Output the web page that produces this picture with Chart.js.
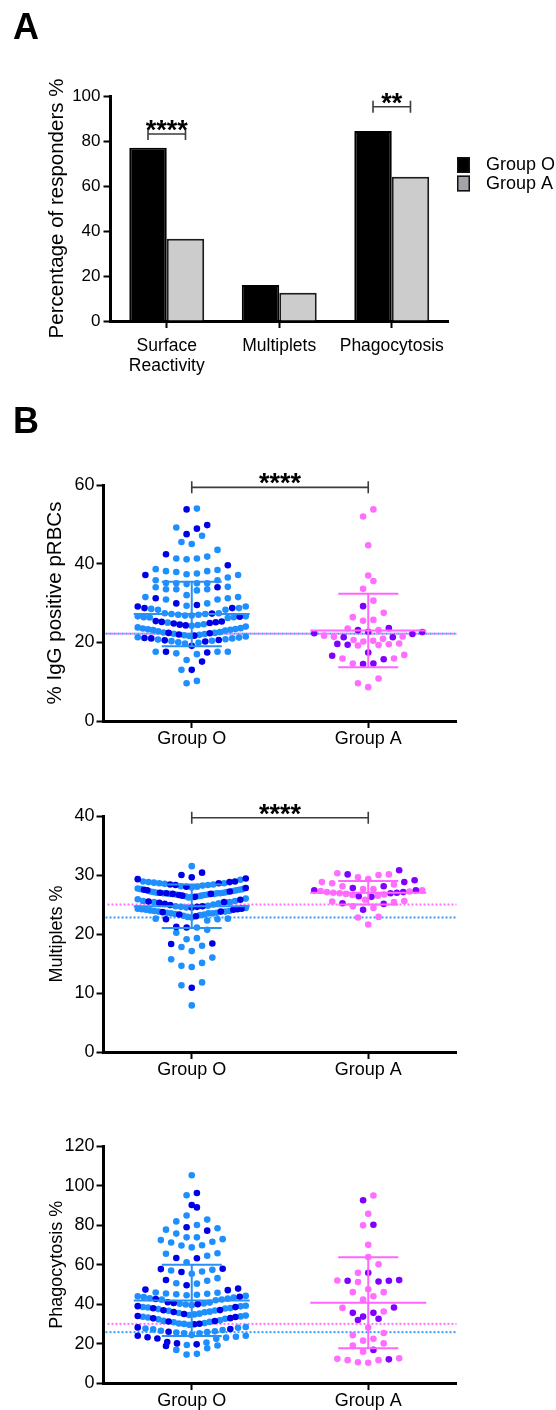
<!DOCTYPE html>
<html lang="en">
<head>
<meta charset="UTF-8">
<title>Group O vs Group A responders</title>
<script src="https://cdn.jsdelivr.net/npm/chart.js@4.4.1/dist/chart.umd.min.js"></script>
<style>
  html, body { margin: 0; padding: 0; background: #fff; }
  body { width: 556px; height: 1410px; position: relative; overflow: hidden; }
  canvas { position: absolute; left: 0; }
  .panel { position: absolute; left: 13px; font: bold 36px "Liberation Sans", Arial, sans-serif; line-height: 36px; color: #000; }
</style>
</head>
<body>
<canvas id="barChart" width="556" height="400" style="top:0"></canvas>
<canvas id="igChart" width="556" height="330" style="top:440px"></canvas>
<canvas id="mpChart" width="556" height="330" style="top:770px"></canvas>
<canvas id="phChart" width="556" height="310" style="top:1100px"></canvas>
<div class="panel" style="top:9px">A</div>
<div class="panel" style="top:403px">B</div>
<script>
// ---- panel A: percentage of responders
const measures = [['Surface', 'Reactivity'], 'Multiplets', 'Phagocytosis'];
const responderO = [77.0, 16.0, 84.4];
const responderA = [36.6, 12.6, 64.1];
const barStars = [{ index: 0, y: 83.1, text: '****' }, { index: 2, y: 95.2, text: '**' }];

// ---- panel B: single donors, group O (blue / dark blue) and group A (pink / purple)
const groups = ['Group O', 'Group A'];

const igOLight = [54.0, 49.2, 47.1, 45.5, 45.0, 43.5, 41.8, 41.3, 41.3, 41.1,
  38.6, 38.4, 38.1, 38.1, 37.9, 37.5, 37.3, 37.1, 36.5,
  35.8, 35.8, 35.1, 35.0, 35.0, 35.0, 34.8, 34.1, 34.0, 33.5, 33.5, 33.5, 33.2, 32.0,
  31.5, 31.5, 31.2, 30.9, 30.9, 29.9, 29.3, 29.1, 28.7, 28.5, 28.3, 28.3,
  27.4, 27.2, 27.0, 26.8, 26.6, 26.4, 26.3, 26.2, 26.4, 26.6, 26.8, 27.0, 27.2, 27.4,
  25.0, 24.6, 24.2, 23.8, 23.5, 23.6, 24.0, 24.4, 23.4, 23.2, 23.0, 22.8, 23.1, 23.3,
  22.6, 22.4, 22.1, 21.8, 21.5, 21.2, 21.0, 21.3, 21.6, 21.9, 22.2, 22.5,
  20.8, 20.4, 20.0, 19.7, 19.9, 20.3, 20.7,
  17.6, 17.6, 17.6, 17.2, 17.0, 15.5, 13.0, 10.2, 9.6];
const igODark = [53.8, 49.8, 48.9, 47.5, 42.4, 39.6, 37.1, 34.0, 31.2,
  29.9, 29.5, 29.1, 28.7, 28.7, 27.3, 26.5,
  25.4, 25.3, 25.2, 25.1, 24.9, 24.8, 24.5, 24.3,
  22.4, 22.3, 22.0, 21.7, 21.1, 21.0, 20.6, 20.5, 20.2,
  19.1, 17.6, 17.4, 15.1, 13.0];
const igAPink = [53.8, 52.0, 44.7, 37.0, 35.6, 33.6, 30.6, 27.5, 26.4, 25.7, 25.5, 23.5, 23.1,
  21.7, 21.5, 21.4, 20.9, 20.6, 20.4, 20.2, 19.7, 19.5, 19.3, 19.2, 16.8, 15.9, 15.9, 14.6, 10.8, 9.6, 8.6];
const igAPurple = [29.2, 23.6, 23.1, 22.7, 22.6, 22.3, 22.1, 21.3, 21.3, 19.6, 19.4, 17.4, 16.6, 15.7, 14.6, 14.5];
const igMean = [27.2, 23.0];
const igSd = [8.2, 9.35];
const igCutoff = [22.2, 22.2];

const mpOLight = [31.5,
  29.2, 28.9, 28.8, 28.7, 28.6, 28.6, 28.5, 28.4, 28.3,
  28.2, 28.1, 28.0, 27.9, 27.7, 27.6, 27.4, 27.3, 27.1, 27.0, 26.9, 26.8, 26.7,
  27.6, 27.5, 27.2, 27.1, 26.9, 26.8, 26.5, 26.4, 26.2,
  27.0, 26.9, 26.7, 26.6, 26.4, 26.2, 26.0, 25.9, 25.6, 25.6, 25.4,
  25.4, 25.2, 25.0, 24.8, 24.6, 24.4, 24.2, 24.0, 23.8, 23.6, 23.5,
  24.7, 24.5, 24.3, 24.1, 23.9, 23.6, 23.5, 23.3,
  23.9, 23.8, 23.5, 23.4, 23.2, 23.1, 22.9,
  22.8, 22.6, 22.6, 22.5, 22.3,
  21.1, 20.7, 20.2, 19.3, 19.1, 18.0, 17.8, 17.1, 16.0, 15.7, 15.1, 14.6, 14.4, 11.8, 11.3, 7.9];
const mpODark = [30.4, 30.0, 29.6, 29.4, 29.3, 28.9, 28.8, 28.6, 28.4, 28.3,
  28.0, 27.8, 27.5, 27.4, 27.2, 27.0, 26.8, 26.6,
  26.9, 26.8, 26.5, 26.3, 25.8, 25.5,
  25.4, 25.3, 25.1, 24.9, 24.7, 24.6, 24.5, 24.3, 24.2, 24.1, 23.8,
  23.7, 23.3, 23.0, 22.5, 21.2, 21.1, 18.4, 18.3, 10.9];
const mpAPink = [30.3, 30.1, 30.0, 29.6, 29.3, 28.8, 28.6, 28.4, 28.1, 27.6, 27.6, 27.4, 27.3, 27.2, 27.1,
  27.0, 26.9, 26.8, 26.7, 26.6, 26.5, 25.8, 25.6, 25.5, 25.4, 24.7, 24.4, 22.9, 22.8, 21.6];
const mpAPurple = [30.8, 30.1, 29.1, 28.8, 28.1, 27.8, 27.4, 27.4, 27.1, 27.0, 26.9, 26.4, 26.3, 25.2, 25.1, 24.1];
const mpMean = [24.7, 27.0];
const mpSd = [3.7, 2.0];
const mpCutoff = [22.8, 25.0];

const phOLight = [105.4, 95.3, 85.0, 82.9, 82.0, 80.2, 78.5, 77.8, 75.8,
  73.9, 73.9, 73.0, 72.5, 71.7, 71.3, 69.9, 69.8, 68.8,
  65.8, 65.6, 64.6, 61.3, 57.4, 57.1, 56.6, 55.4, 53.2, 51.9, 50.6, 50.4,
  45.9, 45.8, 45.4, 45.3, 45.0, 44.8, 44.5, 44.2, 44.0, 43.6, 43.4, 43.0, 42.8, 42.4, 42.3, 42.0,
  40.8, 40.4, 40.2, 39.8, 39.5, 39.2, 38.9, 38.6, 38.3, 38.0, 37.8, 37.5,
  36.8, 36.6, 36.2, 35.9, 35.5, 35.2, 34.8, 34.5, 34.2, 33.8, 33.6, 33.2,
  32.6, 32.3, 31.8, 31.5, 31.0, 30.8, 30.4, 30.2, 30.0, 29.5,
  28.4, 28.0, 27.6, 27.2, 26.9, 26.5, 26.2, 25.8, 25.6, 25.2,
  25.2, 24.3, 24.0, 23.5, 23.0, 22.4,
  20.5, 19.3, 19.0, 17.6, 16.8, 14.8, 14.4];
const phODark = [96.4, 90.3, 89.1, 79.0, 77.3, 63.4, 63.3, 58.0, 57.8, 56.3, 52.3, 49.6, 47.9, 47.4, 47.1,
  43.8, 42.6, 41.0, 40.6, 40.0, 39.0, 38.5, 37.9, 37.0, 36.9, 36.0, 35.0, 34.0, 33.5,
  32.9, 32.8, 31.4, 31.2, 30.1, 29.8, 28.2, 27.4, 26.0, 24.0, 23.2, 22.6, 20.8, 20.1, 19.6, 18.8];
const phAPink = [95.1, 85.9, 80.0, 70.1, 63.9, 60.2, 55.9, 52.0, 51.2, 47.6, 46.1, 46.1, 44.0, 42.3, 38.1,
  36.3, 28.1, 25.4, 24.2, 22.4, 21.5, 20.1, 19.0, 15.9, 12.5, 12.3, 11.6, 11.6, 10.5, 10.3];
const phAPurple = [92.7, 80.3, 55.9, 52.2, 51.9, 51.9, 51.5, 38.3, 35.6, 35.6, 33.7, 32.6, 32.0, 16.8, 12.0];
const phMean = [41.9, 40.7];
const phSd = [18.1, 23.1];
const phCutoff = [25.8, 30.0];

// ---- look
const FONT = '"Liberation Sans", Arial, Helvetica, sans-serif';
const lightBlue = '#1e8fff', darkBlue = '#0000e6', pink = '#ff6eff', purple = '#7f00ff';
const lineColors = ['#2a90f5', '#ff66ff'];
const cutColors = ['#3d9cff', '#ff70ff'];

Chart.defaults.font.family = FONT;
Chart.defaults.color = '#000';

function drawBracket(ctx, x1, x2, py, text) {
  ctx.save();
  ctx.strokeStyle = '#3c3c3c';
  ctx.lineWidth = 1.6;
  ctx.setLineDash([]);
  ctx.beginPath();
  ctx.moveTo(x1, py); ctx.lineTo(x2, py);
  ctx.moveTo(x1, py - 6); ctx.lineTo(x1, py + 6);
  ctx.moveTo(x2, py - 6); ctx.lineTo(x2, py + 6);
  ctx.stroke();
  ctx.fillStyle = '#000';
  ctx.font = 'bold 27px ' + FONT;
  ctx.textAlign = 'center';
  ctx.textBaseline = 'alphabetic';
  ctx.fillText(text, (x1 + x2) / 2, py + 5);
  ctx.restore();
}

function axisY(size, titleText, titleSize, titlePad, width, tickPad) {
  return {
    ticks: { color: '#000', font: { size }, padding: tickPad },
    grid: { drawOnChartArea: false, tickLength: 7, tickWidth: 2, tickColor: '#000' },
    border: { color: '#000', width: 3 },
    title: { display: true, text: titleText, color: '#000', font: { size: titleSize }, padding: { top: titlePad, bottom: 0 } },
    afterFit: s => { s.width = width; }
  };
}

// bar chart extras: significance brackets and legend
const barMarks = {
  id: 'barMarks',
  afterDatasetsDraw(chart) {
    const { ctx, chartArea: a, scales: { y } } = chart;
    barStars.forEach(s => {
      const x1 = chart.getDatasetMeta(0).data[s.index].x;
      const x2 = chart.getDatasetMeta(1).data[s.index].x;
      drawBracket(ctx, x1, x2, y.getPixelForValue(s.y), s.text);
    });
    ctx.save();
    ctx.font = '18px ' + FONT;
    ctx.textBaseline = 'middle';
    chart.data.datasets.forEach((ds, i) => {
      const bx = a.right + 9, by = 157 + i * 18.5;
      ctx.fillStyle = ds.legendColor;
      ctx.fillRect(bx, by, 13, 16);
      ctx.strokeStyle = '#111';
      ctx.lineWidth = 1.5;
      ctx.strokeRect(bx + 0.75, by + 0.75, 11.5, 14.5);
      ctx.fillStyle = '#000';
      ctx.fillText(ds.label, bx + 29, by + 8.5);
    });
    ctx.restore();
  }
};

const yBar = axisY(17, 'Percentage of responders %', 20.5, 45.5, 110.5, 3);
yBar.min = 0;
yBar.max = 100;
yBar.ticks.stepSize = 20;

new Chart(document.getElementById('barChart'), {
  type: 'bar',
  data: {
    labels: measures,
    datasets: [
      { label: groups[0], data: responderO, backgroundColor: '#000', borderColor: '#000', borderWidth: 2, legendColor: '#000' },
      { label: groups[1], data: responderA, backgroundColor: '#cccccc', borderColor: '#1c1c1c', borderWidth: 2, legendColor: '#a4a4a8' }
    ]
  },
  options: {
    responsive: false,
    animation: false,
    events: [],
    layout: { padding: { top: 96, right: 108, bottom: 19, left: 0 } },
    datasets: { bar: { categoryPercentage: 0.666, barPercentage: 1 } },
    plugins: { legend: { display: false }, tooltip: { enabled: false } },
    scales: {
      x: {
        ticks: { color: '#000', font: { size: 17.5, lineHeight: 1.1 }, padding: 9, maxRotation: 0, autoSkip: false },
        grid: { drawOnChartArea: false, offset: false, tickLength: 7, tickWidth: 2, tickColor: '#000' },
        border: { color: '#000', width: 3 },
        afterFit: s => { s.height = 60; }
      },
      y: yBar
    }
  },
  plugins: [barMarks]
});

// column scatter: sorted values are cut into rows about one dot high;
// each row fans out from the centre (lowest value in the middle) and is
// squeezed when it would get wider than the mean bar
function swarm(values, pxY) {
  const gap = 10.3, rowPx = 9.5, maxHalf = 54;
  const order = values.map((v, i) => i).sort((a, b) => values[a] - values[b] || a - b);
  const offs = new Array(values.length);
  let row = [];
  const flush = () => {
    const n = row.length;
    const step = n > 1 ? Math.min(gap, 2 * maxHalf / (n - 1)) : gap;
    row.forEach((idx, j) => {
      let pos;
      if (n % 2) pos = j === 0 ? 0 : (j % 2 ? -(j + 1) / 2 : j / 2);
      else pos = (j % 2 ? 1 : -1) * (Math.floor(j / 2) + 0.5);
      offs[idx] = pos * step;
    });
    row = [];
  };
  order.forEach(i => {
    if (row.length && (values[i] - values[row[0]]) * pxY >= rowPx) flush();
    row.push(i);
  });
  flush();
  return offs;
}

function groupMarks(c) {
  return {
    id: 'groupMarks',
    beforeDatasetsDraw(chart) {
      const { ctx, chartArea: a, scales: { y } } = chart;
      ctx.save();
      ctx.lineWidth = 2;
      ctx.setLineDash([2, 2]);
      c.cutoff.forEach((v, i) => {
        const py = y.getPixelForValue(v);
        ctx.strokeStyle = cutColors[i];
        ctx.lineDashOffset = i * 2;
        ctx.beginPath();
        ctx.moveTo(a.left + 2, py);
        ctx.lineTo(a.right, py);
        ctx.stroke();
      });
      ctx.restore();
    },
    afterDatasetsDraw(chart) {
      const { ctx, scales: { x, y } } = chart;
      ctx.save();
      ctx.lineWidth = 2;
      c.mean.forEach((m, i) => {
        const cx = x.getPixelForValue(i + 0.5);
        const pm = y.getPixelForValue(m);
        const ph = y.getPixelForValue(m + c.sd[i]);
        const pl = y.getPixelForValue(m - c.sd[i]);
        ctx.strokeStyle = lineColors[i];
        ctx.beginPath();
        ctx.moveTo(cx - 58, pm); ctx.lineTo(cx + 58, pm);
        ctx.moveTo(cx - 30, ph); ctx.lineTo(cx + 30, ph);
        ctx.moveTo(cx - 30, pl); ctx.lineTo(cx + 30, pl);
        ctx.moveTo(cx, ph); ctx.lineTo(cx, pl);
        ctx.stroke();
      });
      ctx.restore();
      if (c.star) {
        drawBracket(ctx, x.getPixelForValue(0.5), x.getPixelForValue(1.5), y.getPixelForValue(c.star.y), c.star.text);
      }
    }
  };
}

function swarmChart(id, c) {
  const sets = [
    { data: c.oDark, color: darkBlue, group: 0, order: 0 },
    { data: c.oLight, color: lightBlue, group: 0, order: 1 },
    { data: c.aPurple, color: purple, group: 1, order: 0 },
    { data: c.aPink, color: pink, group: 1, order: 1 }
  ];
  const yAxis = axisY(18, c.title, c.titleSize, c.titlePad, 103.5, 2);
  yAxis.min = 0;
  yAxis.max = c.max;
  yAxis.ticks.stepSize = c.step;
  const chart = new Chart(document.getElementById(id), {
    type: 'scatter',
    data: {
      datasets: sets.map(s => ({
        data: s.data.map(v => ({ x: s.group + 0.5, y: v })),
        backgroundColor: s.color,
        borderWidth: 0,
        pointRadius: 3.3,
        pointHoverRadius: 3.3,
        order: s.order
      }))
    },
    options: {
      responsive: false,
      animation: false,
      events: [],
      layout: { padding: { top: c.top, right: 99.5, bottom: c.bottom, left: 0 } },
      plugins: { legend: { display: false }, tooltip: { enabled: false } },
      scales: {
        x: {
          type: 'linear', min: 0, max: 2,
          afterBuildTicks: s => { s.ticks = groups.map((g, i) => ({ value: i + 0.5 })); },
          ticks: { color: '#000', font: { size: 18 }, padding: 0, callback: v => groups[Math.floor(v)] },
          grid: { drawOnChartArea: false, tickLength: 7, tickWidth: 2, tickColor: '#000' },
          border: { color: '#000', width: 3 },
          afterFit: s => { s.height = c.xHeight; }
        },
        y: yAxis
      }
    },
    plugins: [groupMarks(c)]
  });

  const xs = chart.scales.x, ys = chart.scales.y;
  const pxX = xs.getPixelForValue(1) - xs.getPixelForValue(0);
  const pxY = ys.getPixelForValue(0) - ys.getPixelForValue(1);
  [0, 1].forEach(g => {
    const members = sets.map((s, i) => i).filter(i => sets[i].group === g);
    const vals = [].concat(...members.map(i => sets[i].data));
    const offs = swarm(vals, pxY);
    let n = 0;
    members.forEach(i => {
      chart.data.datasets[i].data = sets[i].data.map(v => ({ x: g + 0.5 + offs[n++] / pxX, y: v }));
    });
  });
  chart.update('none');
}

swarmChart('igChart', {
  oLight: igOLight, oDark: igODark, aPink: igAPink, aPurple: igAPurple,
  mean: igMean, sd: igSd, cutoff: igCutoff, star: { y: 59.4, text: '****' },
  max: 60, step: 20, title: '% IgG positive pRBCs', titleSize: 20.5, titlePad: 43.5,
  top: 45, bottom: 9, xHeight: 40
});
swarmChart('mpChart', {
  oLight: mpOLight, oDark: mpODark, aPink: mpAPink, aPurple: mpAPurple,
  mean: mpMean, sd: mpSd, cutoff: mpCutoff, star: { y: 39.7, text: '****' },
  max: 40, step: 10, title: 'Multiplets %', titleSize: 18, titlePad: 46,
  top: 46, bottom: 8, xHeight: 40
});
swarmChart('phChart', {
  oLight: phOLight, oDark: phODark, aPink: phAPink, aPurple: phAPurple,
  mean: phMean, sd: phSd, cutoff: phCutoff, star: null,
  max: 120, step: 20, title: 'Phagocytosis %', titleSize: 18, titlePad: 46,
  top: 46.5, bottom: 0, xHeight: 27
});
</script>
</body>
</html>
